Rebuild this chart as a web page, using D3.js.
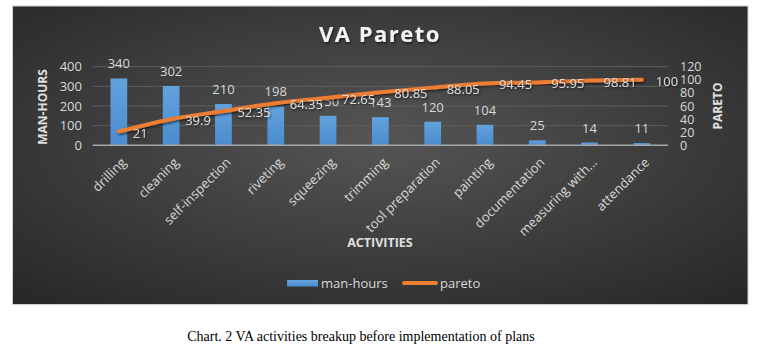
<!DOCTYPE html>
<html>
<head>
<meta charset="utf-8">
<script src="https://cdn.jsdelivr.net/npm/d3@7"></script>
<style>
  body { margin: 0; background: #fff; }
  text { font-family: "Open Sans", sans-serif; }
  text.caption { font-family: "Liberation Serif", "Times New Roman", serif; }
</style>
</head>
<body>
<script>
// chart values
const activities = ["drilling", "cleaning", "self-inspection", "riveting", "squeezing", "trimming",
  "tool preparation", "painting", "documentation", "measuring with...", "attendance"];
const manHours = [340, 302, 210, 198, 150, 143, 120, 104, 25, 14, 11];
const pareto = [21, 39.9, 52.35, 64.35, 72.65, 80.85, 88.05, 94.45, 95.95, 98.81, 100];
const leftTicks = [0, 100, 200, 300, 400];
const rightTicks = [0, 20, 40, 60, 80, 100, 120];

const W = 770, H = 353;
const svg = d3.select("body").append("svg").attr("width", W).attr("height", H);
const defs = svg.append("defs");

const bg = defs.append("radialGradient").attr("id", "bg")
  .attr("cx", "50%").attr("cy", "45%").attr("r", "75%");
bg.append("stop").attr("offset", "0%").attr("stop-color", "#555555");
bg.append("stop").attr("offset", "100%").attr("stop-color", "#262626");

const barGrad = defs.append("linearGradient").attr("id", "barGrad")
  .attr("x1", 0).attr("x2", 0).attr("y1", 0).attr("y2", 1);
barGrad.append("stop").attr("offset", "0%").attr("stop-color", "#62a2dd");
barGrad.append("stop").attr("offset", "100%").attr("stop-color", "#4a8cce");

const shadow = defs.append("filter").attr("id", "shadow").attr("x", "-10%").attr("y", "-30%")
  .attr("width", "130%").attr("height", "180%");
shadow.append("feDropShadow").attr("dx", 1).attr("dy", 1.5).attr("stdDeviation", 1)
  .attr("flood-color", "#000").attr("flood-opacity", 0.6);

// panel
svg.append("rect").attr("x", 12.5).attr("y", 6).attr("width", 735.5).attr("height", 298.5)
  .attr("fill", "url(#bg)").attr("stroke", "#d0d0d0").attr("stroke-width", 1);

const x = d3.scaleBand().domain(activities).range([92.7, 668])
  .paddingInner(0.68).paddingOuter(0.34);
const yL = d3.scaleLinear().domain([0, 400]).range([145.3, 66.7]);
const yR = d3.scaleLinear().domain([0, 120]).range([145.3, 66.7]);
const cx = d => x(d) + x.bandwidth() / 2;

// gridlines
svg.append("g").selectAll("line").data(leftTicks.slice(1)).join("line")
  .attr("x1", 92.7).attr("x2", 668)
  .attr("y1", d => yL(d)).attr("y2", d => yL(d))
  .attr("stroke", "#5e5e5e").attr("stroke-width", 1);

// left axis
const axL = svg.append("g").attr("transform", "translate(82,0)")
  .call(d3.axisLeft(yL).tickValues(leftTicks).tickSize(0).tickPadding(0));
axL.select(".domain").remove();
axL.selectAll("text").attr("fill", "#d9d9d9").attr("font-size", 13)
  .attr("font-family", "'Open Sans', sans-serif");

// right axis
const axR = svg.append("g").attr("transform", "translate(680,0)")
  .call(d3.axisRight(yR).tickValues(rightTicks).tickSize(0).tickPadding(0));
axR.select(".domain").remove();
axR.selectAll("text").attr("fill", "#d9d9d9").attr("font-size", 12.5)
  .attr("font-family", "'Open Sans', sans-serif");

// bars
svg.append("g").selectAll("rect").data(activities).join("rect")
  .attr("x", d => x(d)).attr("width", x.bandwidth())
  .attr("y", (d, i) => yL(manHours[i]))
  .attr("height", (d, i) => yL(0) - yL(manHours[i]))
  .attr("fill", "url(#barGrad)");

// category axis
svg.append("line").attr("x1", 92.7).attr("x2", 668).attr("y1", yL(0)).attr("y2", yL(0))
  .attr("stroke", "#a6a6a6").attr("stroke-width", 1.5);
svg.append("g").selectAll("text").data(activities).join("text")
  .attr("transform", d => `translate(${cx(d) + 5},160) rotate(-45)`)
  .attr("text-anchor", "end").attr("dy", "0.35em")
  .attr("fill", "#d9d9d9").attr("font-size", 13)
  .text(d => d);

// bar labels
svg.append("g").selectAll("text").data(activities).join("text")
  .attr("x", d => cx(d)).attr("y", (d, i) => yL(manHours[i]) - 10)
  .attr("text-anchor", "middle").attr("fill", "#d9d9d9").attr("font-size", 13)
  .text((d, i) => manHours[i]);

// pareto line
const line = d3.line().x(d => cx(d.a)).y(d => yR(d.v)).curve(d3.curveMonotoneX);
const pts = activities.map((a, i) => ({ a, v: pareto[i] }));
svg.append("path").datum(pts).attr("d", line)
  .attr("fill", "none").attr("stroke", "#ed7d31").attr("stroke-width", 4)
  .attr("stroke-linecap", "round").attr("filter", "url(#shadow)");

// pareto labels
svg.append("g").selectAll("text").data(pts).join("text")
  .attr("x", d => cx(d.a) + 14).attr("y", d => yR(d.v) + 6)
  .attr("fill", "#d9d9d9").attr("font-size", 13).attr("filter", "url(#shadow)")
  .text(d => d.v);

// title
svg.append("text").attr("x", 380).attr("y", 42).attr("text-anchor", "middle")
  .attr("font-size", 22).attr("font-weight", "bold").attr("letter-spacing", 1.5)
  .attr("fill", "#f2f2f2").attr("filter", "url(#shadow)")
  .text("VA Pareto");

// axis titles
svg.append("text").attr("transform", "translate(47,107) rotate(-90)")
  .attr("text-anchor", "middle").attr("font-size", 12).attr("font-weight", "bold")
  .attr("fill", "#e0e0e0").text("MAN-HOURS");
svg.append("text").attr("transform", "translate(722,106) rotate(-90)")
  .attr("text-anchor", "middle").attr("font-size", 12).attr("font-weight", "bold")
  .attr("fill", "#e0e0e0").text("PARETO");
svg.append("text").attr("x", 380).attr("y", 247).attr("text-anchor", "middle")
  .attr("font-size", 12.5).attr("font-weight", "bold")
  .attr("fill", "#e0e0e0").text("ACTIVITIES");

// legend
const lg = svg.append("g");
lg.append("rect").attr("x", 287).attr("y", 280).attr("width", 31).attr("height", 6.5)
  .attr("fill", "url(#barGrad)");
lg.append("text").attr("x", 321).attr("y", 288).attr("fill", "#d9d9d9").attr("font-size", 13)
  .text("man-hours");
lg.append("line").attr("x1", 404).attr("x2", 436).attr("y1", 283).attr("y2", 283)
  .attr("stroke", "#ed7d31").attr("stroke-width", 4).attr("stroke-linecap", "round");
lg.append("text").attr("x", 440).attr("y", 288).attr("fill", "#d9d9d9").attr("font-size", 13)
  .text("pareto");

// caption
svg.append("text").attr("class", "caption").attr("x", 361).attr("y", 341)
  .attr("text-anchor", "middle").attr("font-size", 14)
  .attr("fill", "#000").text("Chart. 2 VA activities breakup before implementation of plans");
</script>
</body>
</html>
